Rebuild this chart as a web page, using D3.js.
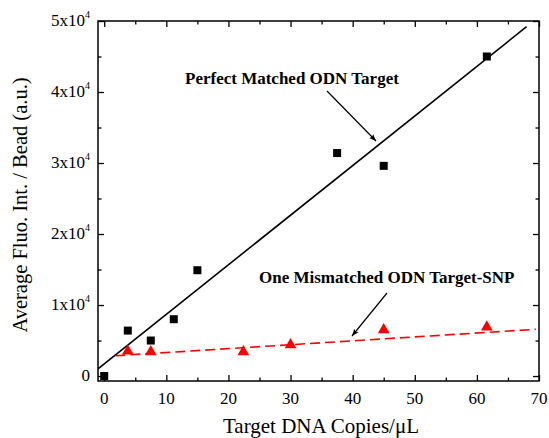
<!DOCTYPE html>
<html>
<head>
<meta charset="utf-8">
<script src="https://cdn.jsdelivr.net/npm/d3@7"></script>
<style>
  body { margin: 0; background: #fff; }
  text { font-family: "Liberation Serif", "DejaVu Serif", serif; }
</style>
</head>
<body>
<svg id="chart" width="549" height="438"></svg>
<script>
// measured data (copies/uL vs fluorescence)
const perfectX = [0, 3.8, 7.5, 11.2, 15, 37.5, 45, 61.6];
const perfectY = [0, 6400, 5000, 8000, 14900, 31400, 29600, 45000];
const mismatchX = [3.8, 7.5, 22.4, 30, 45, 61.6];
const mismatchY = [3500, 3400, 3400, 4400, 6500, 6900];

// fitted lines, endpoints as drawn
const perfectFitX = [-1, 68];
const perfectFitY = [1000, 49200];
const mismatchFitX = [1.8, 69.5];
const mismatchFitY = [2860, 6580];

const xTicks = [0, 10, 20, 30, 40, 50, 60, 70];
const yTicks = [0, 10000, 20000, 30000, 40000, 50000];

const FONT = '"Liberation Serif", "DejaVu Serif", serif';
const margin = { left: 98, top: 21, right: 10, bottom: 57 };
const W = 549, H = 438;

const svg = d3.select('#chart');

const x = d3.scaleLinear().domain([-1, 70]).range([margin.left, W - margin.right]);
const y = d3.scaleLinear().domain([-700, 50000]).range([H - margin.bottom, margin.top]);

const x0 = margin.left, x1 = W - margin.right, y0 = H - margin.bottom, y1 = margin.top;

// ticks inside, all four sides
const minorX = d3.range(5, 70, 10);
const minorY = d3.range(5000, 50000, 10000);

function tickAxis(axis, scale, major, minor, translate) {
  const gMaj = svg.append('g').attr('transform', translate)
    .call(axis(scale).tickValues(major).tickSize(-6).tickFormat(''));
  const gMin = svg.append('g').attr('transform', translate)
    .call(axis(scale).tickValues(minor).tickSize(-3.5).tickFormat(''));
  [gMaj, gMin].forEach(g => {
    g.select('.domain').remove();
    g.selectAll('line').attr('stroke', '#000').attr('stroke-width', 1.3);
  });
}
tickAxis(d3.axisBottom, x, xTicks, minorX, `translate(0,${y0})`);
tickAxis(d3.axisTop, x, xTicks, minorX, `translate(0,${y1})`);
tickAxis(d3.axisLeft, y, yTicks, minorY, `translate(${x0},0)`);
tickAxis(d3.axisRight, y, yTicks, minorY, `translate(${x1},0)`);

svg.append('rect')
  .attr('x', x0).attr('y', y1)
  .attr('width', x1 - x0).attr('height', y0 - y1)
  .attr('fill', 'none').attr('stroke', '#000').attr('stroke-width', 1.5);

// x tick labels
svg.append('g').selectAll('text')
  .data(xTicks).enter().append('text')
  .attr('x', d => x(d)).attr('y', y0 + 23)
  .attr('text-anchor', 'middle')
  .attr('font-family', FONT)
  .attr('font-size', 17)
  .text(d => d);

// y tick labels (a x 10^4)
const yl = svg.append('g').selectAll('text')
  .data(yTicks).enter().append('text')
  .attr('x', x0 - 8).attr('y', d => y(d) + 5)
  .attr('text-anchor', 'end')
  .attr('font-family', FONT)
  .attr('font-size', 17);
yl.each(function(d) {
  const t = d3.select(this);
  if (d === 0) { t.text('0'); return; }
  t.append('tspan').text(`${d / 10000}x10`);
  t.append('tspan').attr('font-size', 10).attr('dy', -8).text('4');
});

// axis titles
svg.append('text')
  .attr('x', 321).attr('y', 433)
  .attr('text-anchor', 'middle')
  .attr('font-family', FONT)
  .attr('font-size', 21)
  .text('Target DNA Copies/\u03BCL');

svg.append('text')
  .attr('transform', `translate(27,${(y0 + y1) / 2 + 4}) rotate(-90)`)
  .attr('text-anchor', 'middle')
  .attr('font-family', FONT)
  .attr('font-size', 20.5)
  .text('Average Fluo. Int. / Bead (a.u.)');

// fit lines
const line = d3.line().x(d => x(d[0])).y(d => y(d[1]));

svg.append('path')
  .datum(d3.zip(perfectFitX, perfectFitY))
  .attr('d', line)
  .attr('fill', 'none').attr('stroke', '#000').attr('stroke-width', 1.6);

svg.append('path')
  .datum(d3.zip(mismatchFitX, mismatchFitY))
  .attr('d', line)
  .attr('fill', 'none').attr('stroke', '#ff0000').attr('stroke-width', 1.6)
  .attr('stroke-dasharray', '10,5');

// markers
svg.append('g').selectAll('rect')
  .data(d3.zip(perfectX, perfectY)).enter().append('rect')
  .attr('x', d => x(d[0]) - 4).attr('y', d => y(d[1]) - 4)
  .attr('width', 8).attr('height', 8)
  .attr('fill', '#000');

const tri = d3.symbol().type(d3.symbolTriangle).size(60);
svg.append('g').selectAll('path')
  .data(d3.zip(mismatchX, mismatchY)).enter().append('path')
  .attr('transform', d => `translate(${x(d[0])},${y(d[1])})`)
  .attr('d', tri)
  .attr('fill', '#ff0000');

// annotations
svg.append('defs').append('marker')
  .attr('id', 'arrow')
  .attr('viewBox', '0 -4 10 8')
  .attr('refX', 10)
  .attr('markerWidth', 7)
  .attr('markerHeight', 6)
  .attr('markerUnits', 'userSpaceOnUse')
  .attr('orient', 'auto')
  .append('path')
  .attr('d', 'M0,-4L10,0L0,4L2,0Z')
  .attr('fill', '#000');

function annotate(label, tx, ty, from, to) {
  svg.append('text')
    .attr('x', tx).attr('y', ty)
    .attr('font-family', FONT)
    .attr('font-size', 17).attr('font-weight', 'bold')
    .text(label);
  svg.append('line')
    .attr('x1', from[0]).attr('y1', from[1])
    .attr('x2', to[0]).attr('y2', to[1])
    .attr('stroke', '#000').attr('stroke-width', 1.2)
    .attr('marker-end', 'url(#arrow)');
}
annotate('Perfect Matched ODN Target', 185, 84, [327, 91], [376, 141]);
annotate('One Mismatched ODN Target-SNP', 259, 283, [387, 293], [352, 336]);
</script>
</body>
</html>
